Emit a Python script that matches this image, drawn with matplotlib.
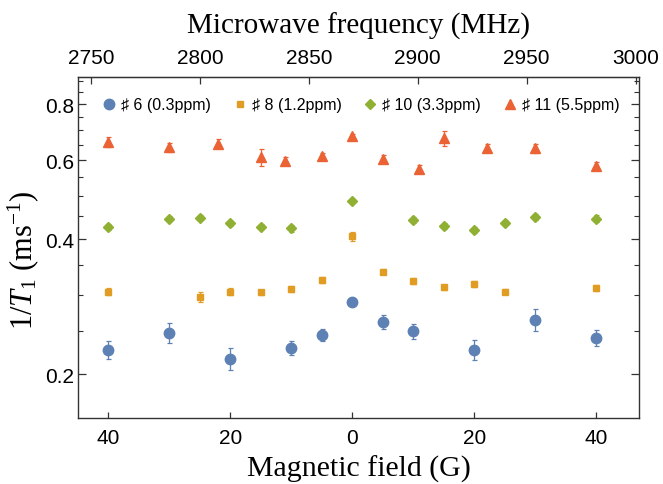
import numpy as np
from matplotlib import pyplot as plt
from matplotlib.lines import Line2D
from matplotlib.ticker import FixedLocator, FuncFormatter, NullFormatter

plt.rcParams['font.family'] = ['Liberation Sans', 'DejaVu Sans']
plt.rcParams['mathtext.fontset'] = 'custom'
plt.rcParams['mathtext.rm'] = 'Liberation Serif'
plt.rcParams['mathtext.it'] = 'Liberation Serif:italic'

# NV sample data: 1/T1 vs magnetic field
field_6 = [-40, -30, -20, -10, -5, 0, 5, 10, 20, 30, 40]
rate_6 = [0.227, 0.248, 0.217, 0.229, 0.245, 0.290, 0.262, 0.250, 0.227, 0.265, 0.241]
err_6 = [0.011, 0.013, 0.012, 0.008, 0.0075, 0.004, 0.010, 0.0096, 0.012, 0.015, 0.010]

field_8 = [-40, -25, -20, -15, -10, -5, 0, 5, 10, 15, 20, 25, 40]
rate_8 = [0.306, 0.297, 0.306, 0.305, 0.310, 0.324, 0.406, 0.339, 0.323, 0.313, 0.318, 0.306, 0.312]
err_8 = [0.005, 0.0076, 0.005, 0.004, 0.005, 0.005, 0.010, 0.004, 0.005, 0.004, 0.005, 0.004, 0.005]

field_10 = [-40, -30, -25, -20, -15, -10, 0, 10, 15, 20, 25, 30, 40]
rate_10 = [0.426, 0.445, 0.447, 0.434, 0.427, 0.423, 0.488, 0.442, 0.428, 0.420, 0.436, 0.449, 0.445]
err_10 = [0.007, 0.005, 0.006, 0.006, 0.006, 0.007, 0.003, 0.007, 0.006, 0.006, 0.006, 0.007, 0.008]

field_11 = [-40, -30, -22, -15, -11, -5, 0, 5, 11, 15, 22, 30, 40]
rate_11 = [0.659, 0.642, 0.654, 0.610, 0.598, 0.612, 0.678, 0.604, 0.575, 0.673, 0.639, 0.638, 0.583]
err_11 = [0.017, 0.015, 0.015, 0.027, 0.012, 0.012, 0.010, 0.012, 0.012, 0.026, 0.012, 0.014, 0.013]

labels = ["\u266f 6 (0.3ppm)", "\u266f 8 (1.2ppm)", "\u266f 10 (3.3ppm)", "\u266f 11 (5.5ppm)"]
colors = ["#5E81B5", "#E19C24", "#8FB032", "#EB6235"]
markers = ["o", "s", "D", "^"]
msizes = [7.5, 5, 5.5, 7.5]

freq_ticks = [2750, 2800, 2850, 2900, 2950, 3000]
field_ticks = [-40, -20, 0, 20, 40]
y_major = [0.2, 0.4, 0.6, 0.8]
y_minor = [0.25, 0.3, 0.35, 0.45, 0.5, 0.55, 0.65, 0.7, 0.75, 0.85, 0.9]

ZFS = 2870.0   # MHz
GAMMA = 2.8    # MHz/G
SPINE = '#333333'

fig = plt.figure(figsize=(6.63, 4.85), dpi=100)
ax = fig.add_axes([0.1176, 0.1361, 0.8462, 0.7031])

series = [(field_6, rate_6, err_6), (field_8, rate_8, err_8),
          (field_10, rate_10, err_10), (field_11, rate_11, err_11)]
handles = []
for (x, y, e), lab, c, m, ms in zip(series, labels, colors, markers, msizes):
    ax.errorbar(x, y, yerr=e, fmt=m, color=c, ms=ms, mec=c, ecolor=c,
                elinewidth=0.9, capsize=1.8, capthick=0.9)
    handles.append(Line2D([], [], ls='none', marker=m, color=c, ms=ms, label=lab))

ax.set_yscale('log')
ax.set_xlim(-45, 47)
ax.set_ylim(0.16, 0.92)

ax.yaxis.set_major_locator(FixedLocator(y_major))
ax.yaxis.set_minor_locator(FixedLocator(y_minor))
ax.yaxis.set_major_formatter(FuncFormatter(lambda v, p: f"{v:.1f}"))
ax.yaxis.set_minor_formatter(NullFormatter())
ax.xaxis.set_major_locator(FixedLocator(field_ticks))
ax.xaxis.set_major_formatter(FuncFormatter(lambda v, p: f"{abs(v):.0f}"))

ax.tick_params(axis='both', which='major', direction='in', length=6, width=0.9,
               labelsize=15, pad=7, color=SPINE)
ax.tick_params(axis='y', which='minor', direction='in', length=3.5, width=0.8,
               color=SPINE)
ax.tick_params(axis='y', which='both', right=True, pad=3)
ax.tick_params(axis='x', which='major', length=4)

for sp in ax.spines.values():
    sp.set_color(SPINE)
    sp.set_linewidth(1.0)

top = ax.secondary_xaxis('top', functions=(lambda b: ZFS + GAMMA * b,
                                           lambda f: (f - ZFS) / GAMMA))
top.xaxis.set_major_locator(FixedLocator(freq_ticks))
top.tick_params(direction='in', length=5, width=0.9, labelsize=15, pad=7,
                color=SPINE)
top.set_xlabel("Microwave frequency (MHz)", family='Liberation Serif',
               fontsize=21, labelpad=11)

ax.set_xlabel("Magnetic field (G)", family='Liberation Serif', fontsize=21.5,
              labelpad=6)
ax.set_ylabel(r"$1/T_{1}\ (\mathrm{ms}^{-1})$", fontsize=22)
ax.yaxis.set_label_coords(-0.066, 0.465)

ax.legend(handles=handles, loc='center', bbox_to_anchor=(0.503, 0.918), ncol=4,
          frameon=False, fontsize=11.5, handletextpad=0.25, columnspacing=1.3,
          borderpad=0, handlelength=1.0)

fig.savefig("out.png", dpi=100)
